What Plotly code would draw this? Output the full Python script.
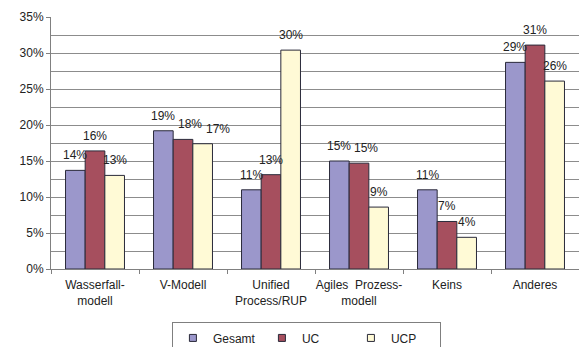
import plotly.graph_objects as go

categories = ["Wasserfall-<br>modell", "V-Modell", "Unified<br>Process/RUP",
              "Agiles  Prozess-<br>modell", "Keins", "Anderes"]
gesamt = [0.137, 0.192, 0.110, 0.150, 0.110, 0.287]
uc = [0.164, 0.180, 0.131, 0.147, 0.066, 0.311]
ucp = [0.130, 0.174, 0.304, 0.086, 0.044, 0.261]

series = [("Gesamt", gesamt, "#9B97CB"), ("UC", uc, "#A64F5E"), ("UCP", ucp, "#FFFAD6")]

font = dict(family="Liberation Sans, Arial, sans-serif", size=12, color="#222222")

W, H = 579, 347
M = dict(l=51, r=0, t=17, b=78)
Y_MAX = 0.35
BARGAP = 0.33
plot_w = W - M["l"] - M["r"]
plot_h = H - M["t"] - M["b"]
cat_px = plot_w / len(categories)
bar_px = cat_px * (1 - BARGAP) / len(series)
px_per_unit = plot_h / Y_MAX
LABEL_LIFT = 6

fig = go.Figure()
for name, vals, color in series:
    fig.add_trace(go.Bar(
        x=categories, y=vals, name=name, showlegend=False,
        marker=dict(color=color, line=dict(color="#2a2a3a", width=1)),
    ))
    # small square legend key
    fig.add_trace(go.Scatter(
        x=[None], y=[None], mode="markers", name=name,
        marker=dict(symbol="square", size=7, color=color,
                    line=dict(color="#2a2a3a", width=1)),
    ))

# value labels above the bars, nudged right when neighbouring labels collide
annotations = []
for ci, cat in enumerate(categories):
    prev = None  # (right edge px, label bottom px)
    for si, (name, vals, color) in enumerate(series):
        v = vals[ci]
        text = f"{round(v * 100):.0f}%"
        w = 6.7 * (len(text) - 1) + 10.7
        cx = (si - (len(series) - 1) / 2) * bar_px
        bottom = v * px_per_unit + LABEL_LIFT
        if prev is not None and abs(bottom - prev[1]) < 15:
            cx = max(cx, prev[0] + 3 + w / 2)
        annotations.append(dict(
            x=cat, y=v, text=text, showarrow=False, xref="x", yref="y",
            xanchor="center", yanchor="bottom", xshift=cx, yshift=LABEL_LIFT,
            font=font,
        ))
        prev = (cx + w / 2, bottom)

fig.update_layout(
    width=W, height=H,
    margin=dict(**M, autoexpand=False),
    paper_bgcolor="white", plot_bgcolor="white",
    font=font,
    barmode="group", bargap=BARGAP, bargroupgap=0,
    annotations=annotations,
    showlegend=True,
    legend=dict(orientation="h", x=0.229, xanchor="left", y=-0.212, yanchor="top",
                bordercolor="#7f7f7f", borderwidth=1, bgcolor="white",
                font=font, itemwidth=30, tracegroupgap=0,
                entrywidth=44, entrywidthmode="pixels"),
    xaxis=dict(type="category", tickson="boundaries", ticks="outside", ticklen=4,
               tickcolor="#808080", showline=True, linecolor="#808080", linewidth=1,
               showgrid=False, tickangle=0, automargin=False, ticklabelstandoff=5),
    yaxis=dict(range=[0, Y_MAX], dtick=0.05, tickformat=".0%", ticks="outside", ticklen=4,
               tickcolor="#808080", showline=True, linecolor="#808080", linewidth=1,
               showgrid=True, gridcolor="#8c8c8c", gridwidth=1, zeroline=False,
               minor=dict(dtick=0.025, showgrid=True, gridcolor="#8c8c8c", gridwidth=1),
               automargin=False),
)

fig.write_html("out.html")
